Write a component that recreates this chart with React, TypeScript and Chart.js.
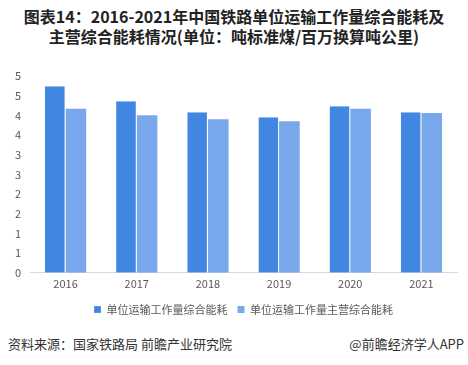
import React, { useEffect, useRef } from "react";
import { Chart, registerables } from "chart.js";

Chart.register(...registerables);

const categories = ["2016", "2017", "2018", "2019", "2020", "2021"];
const seriesNames = ["单位运输工作量综合能耗", "单位运输工作量主营综合能耗"];
const totalValues = [4.74, 4.36, 4.08, 3.95, 4.23, 4.08];
const mainValues = [4.17, 4.0, 3.9, 3.85, 4.17, 4.06];
const titleLines = [
  "图表14：2016-2021年中国铁路单位运输工作量综合能耗及",
  "主营综合能耗情况(单位：吨标准煤/百万换算吨公里)",
];
const sourceText = "资料来源：国家铁路局 前瞻产业研究院";
const brandText = "@前瞻经济学人APP";

const FONT = "'Noto Sans CJK SC', 'Noto Sans', sans-serif";
const CANVAS_H = 269;

export default function App() {
  const ref = useRef<HTMLCanvasElement | null>(null);
  useEffect(() => {
    if (!ref.current) return;
    const chart = new Chart(ref.current, {
      type: "bar",
      data: {
        labels: categories,
        datasets: [
          {
            label: seriesNames[0],
            data: totalValues,
            backgroundColor: "#4186E1",
            borderColor: "#ffffff",
            borderWidth: { right: 1 } as any,
            borderSkipped: false,
          },
          {
            label: seriesNames[1],
            data: mainValues,
            backgroundColor: "#78A8EB",
            borderColor: "#ffffff",
            borderWidth: 0,
          },
        ],
      },
      options: {
        animation: false,
        responsive: false,
        maintainAspectRatio: false,
        layout: { padding: { left: 0, right: 11, top: 20, bottom: 0 } },
        datasets: { bar: { categoryPercentage: 0.58, barPercentage: 1 } },
        plugins: {
          title: { display: false },
          tooltip: { enabled: false },
          legend: {
            position: "bottom",
            fullSize: false,
            labels: {
              boxWidth: 7,
              boxHeight: 7,
              padding: 10,
              color: "#595959",
              font: { family: FONT, size: 11 },
            },
          },
        },
        scales: {
          x: {
            grid: { display: false, drawTicks: false },
            border: { display: true, color: "#d9d9d9", width: 1 },
            ticks: { color: "#595959", font: { family: FONT, size: 11 }, padding: 4 },
          },
          y: {
            min: 0,
            max: 5,
            grid: { display: false, drawTicks: false },
            border: { display: false },
            ticks: {
              stepSize: 0.5,
              color: "#595959",
              font: { family: FONT, size: 11 },
              padding: 9,
              callback: (v: any) => String(Math.round(Number(v))),
            },
            afterFit: (s: any) => {
              s.width = 30;
            },
          },
        },
      },
    });
    return () => chart.destroy();
  }, []);

  return (
    <div
      style={{
        position: "absolute",
        left: 0,
        top: 0,
        width: 468,
        height: 365,
        background: "#fff",
        fontFamily: FONT,
        overflow: "hidden",
      }}
    >
      <div
        style={{
          position: "absolute",
          top: 6,
          left: 0,
          width: 468,
          textAlign: "center",
          fontSize: 16,
          fontWeight: 700,
          lineHeight: "20px",
          color: "#222",
        }}
      >
        {titleLines.map((t, i) => (
          <div key={i}>{t}</div>
        ))}
      </div>
      <div style={{ position: "absolute", top: 56, left: 0, width: 468, height: CANVAS_H }}>
        <canvas ref={ref} width={468} height={CANVAS_H} style={{ width: 468, height: CANVAS_H }} />
      </div>
      <div
        style={{
          position: "absolute",
          top: 335,
          left: 8,
          fontSize: 13,
          color: "#333",
          lineHeight: "18px",
        }}
      >
        {sourceText}
      </div>
      <div
        style={{
          position: "absolute",
          top: 335,
          right: 4,
          fontSize: 13,
          color: "#333",
          lineHeight: "18px",
        }}
      >
        {brandText}
      </div>
    </div>
  );
}
